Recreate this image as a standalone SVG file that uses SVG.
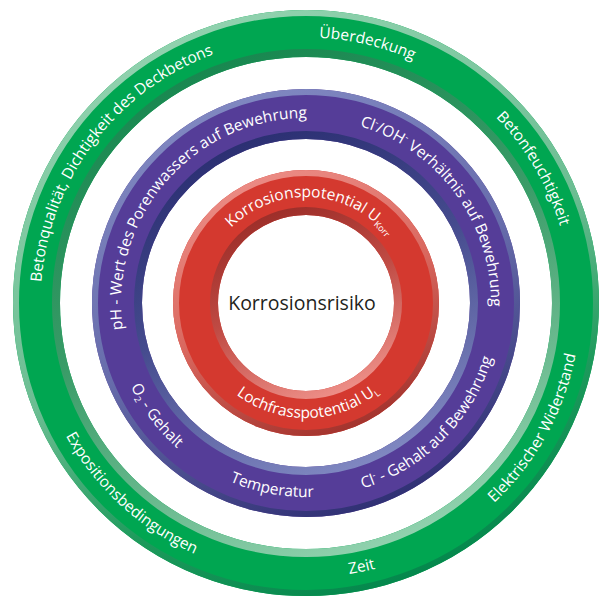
<svg xmlns="http://www.w3.org/2000/svg" width="602" height="597" viewBox="0 0 602 597">
  <defs>
    <style>
      .lbl { font-family: "Open Sans", "Noto Sans", "Liberation Sans", sans-serif; font-size: 15.5px; fill: #ffffff; }
      .ctr { font-family: "Open Sans", "Noto Sans", "Liberation Sans", sans-serif; font-size: 19.5px; fill: #231f20; }
      .sup { font-size: 9px; }
      .sub { font-size: 9px; }
    </style>
    <linearGradient id="gOut" gradientUnits="userSpaceOnUse" x1="189" y1="10" x2="423" y2="596">
      <stop offset="0" stop-color="#93d3b0"/>
      <stop offset="0.5" stop-color="#6bbd92"/>
      <stop offset="0.75" stop-color="#1e9a5c"/>
      <stop offset="1" stop-color="#00854a"/>
    </linearGradient>
    <linearGradient id="gIn" gradientUnits="userSpaceOnUse" x1="208" y1="57" x2="404" y2="549">
      <stop offset="0" stop-color="#17874f"/>
      <stop offset="0.45" stop-color="#3a9c68"/>
      <stop offset="1" stop-color="#93d3b0"/>
    </linearGradient>
    <linearGradient id="pOut" gradientUnits="userSpaceOnUse" x1="220" y1="89" x2="392" y2="517">
      <stop offset="0" stop-color="#8189c2"/>
      <stop offset="0.5" stop-color="#676cab"/>
      <stop offset="1" stop-color="#2c2c70"/>
    </linearGradient>
    <linearGradient id="pIn" gradientUnits="userSpaceOnUse" x1="240" y1="139" x2="372" y2="467">
      <stop offset="0" stop-color="#2b2f72"/>
      <stop offset="0.45" stop-color="#454b8e"/>
      <stop offset="1" stop-color="#8189c2"/>
    </linearGradient>
    <linearGradient id="rOut" gradientUnits="userSpaceOnUse" x1="252" y1="170" x2="358" y2="436">
      <stop offset="0" stop-color="#ec8d86"/>
      <stop offset="0.5" stop-color="#d9675e"/>
      <stop offset="1" stop-color="#a0302a"/>
    </linearGradient>
    <linearGradient id="rIn" gradientUnits="userSpaceOnUse" x1="270" y1="215" x2="340" y2="391">
      <stop offset="0" stop-color="#9e2f2a"/>
      <stop offset="0.45" stop-color="#bf4a43"/>
      <stop offset="1" stop-color="#ec8d86"/>
    </linearGradient>
    <!-- clockwise circles starting at bottom (tops outward) -->
    <path id="gCW" d="M306,568.5 A265.5,265.5 0 1 1 306,37.5 A265.5,265.5 0 1 1 306,568.5"/>
    <path id="pCW" d="M306,488 A185,185 0 1 1 306,118 A185,185 0 1 1 306,488"/>
    <path id="rCW" d="M306,409 A106,106 0 1 1 306,197 A106,106 0 1 1 306,409"/>
    <!-- counter-clockwise circles starting at top (tops inward) -->
    <path id="gCCW" d="M306,28.5 A274.5,274.5 0 1 0 306,577.5 A274.5,274.5 0 1 0 306,28.5"/>
    <path id="pCCW" d="M306,109 A194,194 0 1 0 306,497 A194,194 0 1 0 306,109"/>
    <path id="rCCW" d="M306,188 A115,115 0 1 0 306,418 A115,115 0 1 0 306,188"/>
  </defs>
  <rect width="602" height="597" fill="#ffffff"/>

  <g id="ring-green">
    <circle cx="306" cy="303" r="269.5" fill="none" stroke="#00a651" stroke-width="47"/>
    <circle cx="306" cy="303" r="290" fill="none" stroke="url(#gOut)" stroke-width="6"/>
    <circle cx="306" cy="303" r="250" fill="none" stroke="url(#gIn)" stroke-width="8"/>
    <text class="lbl" text-anchor="middle"><textPath href="#gCW" startOffset="53.7%">Überdeckung</textPath></text>
    <text class="lbl" text-anchor="middle"><textPath href="#gCW" startOffset="66.5%">Betonfeuchtigkeit</textPath></text>
    <text class="lbl" text-anchor="middle"><textPath href="#gCW" startOffset="35.3%">Betonqualität, Dichtigkeit des Deckbetons</textPath></text>
    <text class="lbl" text-anchor="middle"><textPath href="#gCCW" startOffset="53.3%">Zeit</textPath></text>
    <text class="lbl" text-anchor="middle"><textPath href="#gCCW" startOffset="38.2%">Expositionsbedingungen</textPath></text>
    <text class="lbl" text-anchor="middle"><textPath href="#gCCW" startOffset="67%">Elektrischer Widerstand</textPath></text>
  </g>

  <g id="ring-purple">
    <circle cx="306" cy="303" r="189" fill="none" stroke="#553d98" stroke-width="50"/>
    <circle cx="306" cy="303" r="211" fill="none" stroke="url(#pOut)" stroke-width="6"/>
    <circle cx="306" cy="303" r="168" fill="none" stroke="url(#pIn)" stroke-width="8"/>
    <text class="lbl" text-anchor="middle"><textPath href="#pCW" startOffset="36.39%">pH - Wert des Porenwassers auf Bewehrung</textPath></text>
    <text class="lbl" text-anchor="middle"><textPath href="#pCW" startOffset="65%">Cl<tspan class="sup" baseline-shift="6">-</tspan>/OH<tspan class="sup" baseline-shift="6">-</tspan> Verhältnis auf Bewehrung</textPath></text>
    <text class="lbl" text-anchor="middle"><textPath href="#pCCW" startOffset="35.28%">O<tspan class="sub" baseline-shift="-3">2</tspan> - Gehalt</textPath></text>
    <text class="lbl" text-anchor="middle"><textPath href="#pCCW" startOffset="47.11%">Temperatur</textPath></text>
    <text class="lbl" text-anchor="middle"><textPath href="#pCCW" startOffset="62.58%">Cl<tspan class="sup" baseline-shift="6">-</tspan> - Gehalt auf Bewehrung</textPath></text>
  </g>

  <g id="ring-red">
    <circle cx="306" cy="303" r="110.5" fill="none" stroke="#d4392f" stroke-width="45"/>
    <circle cx="306" cy="303" r="130" fill="none" stroke="url(#rOut)" stroke-width="6"/>
    <circle cx="306" cy="303" r="92" fill="none" stroke="url(#rIn)" stroke-width="8"/>
    <text class="lbl" text-anchor="middle"><textPath href="#rCW" startOffset="50.8%">Korrosionspotential U<tspan class="sub" baseline-shift="-3">Korr</tspan></textPath></text>
    <text class="lbl" text-anchor="middle"><textPath href="#rCCW" startOffset="50.28%">Lochfrasspotential U<tspan class="sub" baseline-shift="-3">L</tspan></textPath></text>
  </g>

  <g id="center">
    <text class="ctr" x="302" y="310" text-anchor="middle">Korrosionsrisiko</text>
  </g>
</svg>
